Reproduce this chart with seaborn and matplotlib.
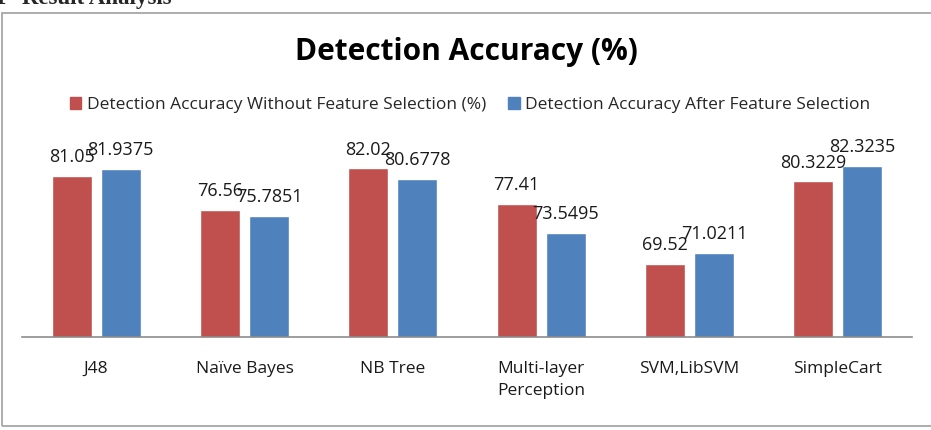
import matplotlib
matplotlib.use("Agg")
import matplotlib.pyplot as plt
import pandas as pd
import seaborn as sns
from matplotlib.patches import Rectangle

# ---- data ----
classifiers = ["J48", "Naïve Bayes", "NB Tree", "Multi-layer\nPerception", "SVM,LibSVM", "SimpleCart"]
without_fs = [81.05, 76.56, 82.02, 77.41, 69.52, 80.3229]
after_fs = [81.9375, 75.7851, 80.6778, 73.5495, 71.0211, 82.3235]
series = ["Detection Accuracy Without Feature Selection (%)", "Detection Accuracy After Feature Selection"]

RED, BLUE, AXIS_GRAY, BORDER = "#C0504D", "#4F81BD", "#8C8C8C", "#A0A0A0"

df = pd.DataFrame({
    "classifier": classifiers * 2,
    "accuracy": without_fs + after_fs,
    "series": [series[0]] * len(classifiers) + [series[1]] * len(classifiers),
})

sns.set_theme(style="white")
plt.rcParams["font.family"] = ["Open Sans", "DejaVu Sans"]

W, H = 931, 430
fig = plt.figure(figsize=(W / 100, H / 100), dpi=100)
ax = fig.add_axes([22 / W, (H - 337) / H, (912 - 22) / W, (337 - 145.5) / H])

sns.barplot(data=df, x="classifier", y="accuracy", hue="series", order=classifiers,
            hue_order=series, palette=[RED, BLUE], width=0.66, gap=0.18,
            saturation=1, ax=ax, legend=False)
ax.set_ylim(60, 85)
ax.set_xlim(-0.5, len(classifiers) - 0.5)
for cont in ax.containers:
    ax.bar_label(cont, labels=[f"{b.get_height():g}" for b in cont], padding=7,
                 fontsize=13, color="#1a1a1a")

ax.set_xlabel(""); ax.set_ylabel("")
ax.set_yticks([])
for s in ("left", "right", "top"):
    ax.spines[s].set_visible(False)
ax.spines["bottom"].set_color(AXIS_GRAY)
ax.spines["bottom"].set_linewidth(1.2)
ax.tick_params(axis="x", length=0, pad=17, labelsize=12.5, colors="#1a1a1a")
for t in ax.get_xticklabels():
    t.set_linespacing(1.5)
    t.set_verticalalignment("top")

# title + legend
fig.text(466 / W, 1 - 52 / H, "Detection Accuracy (%)", ha="center", va="center",
         fontsize=21.5, fontweight="bold", color="black")
handles = [Rectangle((0, 0), 1, 1, color=c) for c in (RED, BLUE)]
fig.legend(handles, series, loc="center", bbox_to_anchor=(470 / W, 1 - 105 / H), ncol=2,
           frameon=False, fontsize=12.5, handlelength=0.65, handleheight=0.65,
           handletextpad=0.3, columnspacing=1.3)

# chart border (right edge cropped off in the source)
fig.patches.append(Rectangle((2 / W, 4 / H), 1.2, 1 - 13 / H - 4 / H, transform=fig.transFigure,
                             fill=False, edgecolor=BORDER, linewidth=1.2))

# clipped heading from the page above the chart
fig.text(5 / W, 1 - 4 / H, "1", ha="right", va="baseline", fontsize=16.5,
         fontweight="bold", family=["Liberation Serif"])
fig.text(22 / W, 1 - 4 / H, "Result Analysis", ha="left", va="baseline", fontsize=16.5,
         fontweight="bold", family=["Liberation Serif"])

fig.savefig("out.png", dpi=100)
